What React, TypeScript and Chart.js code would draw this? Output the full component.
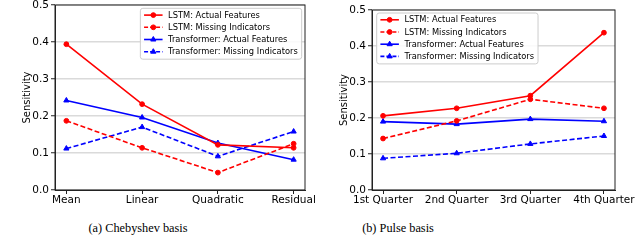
import React, { useEffect, useRef } from 'react';
import { Chart, registerables } from 'chart.js';

Chart.register(...registerables);
Chart.defaults.font.family = '"DejaVu Sans", sans-serif';

// ---------- data ----------
const chebyshevCategories = ['Mean', 'Linear', 'Quadratic', 'Residual'];
const pulseCategories = ['1st Quarter', '2nd Quarter', '3rd Quarter', '4th Quarter'];
const seriesNames = [
  'LSTM: Actual Features',
  'LSTM: Missing Indicators',
  'Transformer: Actual Features',
  'Transformer: Missing Indicators',
];

const chebLstmActual = [0.394, 0.232, 0.122, 0.114];
const chebLstmMissing = [0.187, 0.114, 0.047, 0.125];
const chebTransActual = [0.242, 0.196, 0.127, 0.082];
const chebTransMissing = [0.112, 0.17, 0.091, 0.158];

const pulseLstmActual = [0.206, 0.227, 0.262, 0.437];
const pulseLstmMissing = [0.143, 0.192, 0.252, 0.227];
const pulseTransActual = [0.19, 0.183, 0.197, 0.191];
const pulseTransMissing = [0.088, 0.102, 0.128, 0.15];

const yTicks = [0, 0.1, 0.2, 0.3, 0.4, 0.5];
const yTitle = 'Sensitivity';
const captions = ['(a) Chebyshev basis', '(b) Pulse basis'];

// ---------- styles ----------
const seriesStyles = [
  { color: '#ff0000', dash: [] as number[], marker: 'circle' },
  { color: '#ff0000', dash: [5, 2.5], marker: 'circle' },
  { color: '#0000ff', dash: [] as number[], marker: 'triangle' },
  { color: '#0000ff', dash: [5, 2.5], marker: 'triangle' },
];

type Geo = {
  padTop: number;
  padRight: number;
  yWidth: number;
  titlePad: number;
  legendAlign: 'left' | 'right';
  legendDx: number;
  legendDy: number;
};

const framePlugin = {
  id: 'frame',
  afterDatasetsDraw(chart: any) {
    const { ctx, chartArea: a } = chart;
    ctx.save();
    ctx.strokeStyle = '#222';
    ctx.lineWidth = 1;
    ctx.strokeRect(a.left, a.top, a.right - a.left, a.bottom - a.top);
    ctx.restore();
  },
};

function drawMarker(ctx: CanvasRenderingContext2D, kind: string, x: number, y: number, color: string) {
  ctx.save();
  ctx.fillStyle = color;
  ctx.strokeStyle = color;
  ctx.setLineDash([]);
  ctx.lineWidth = 1;
  ctx.beginPath();
  if (kind === 'circle') {
    ctx.arc(x, y, 2.4, 0, Math.PI * 2);
  } else {
    const r = 3;
    ctx.moveTo(x, y - r);
    ctx.lineTo(x + r * 0.866, y + r * 0.5);
    ctx.lineTo(x - r * 0.866, y + r * 0.5);
    ctx.closePath();
  }
  ctx.fill();
  ctx.stroke();
  ctx.restore();
}

function makeLegendPlugin(g: Geo) {
  return {
    id: 'insideLegend',
    afterDraw(chart: any) {
      const { ctx, chartArea: a } = chart;
      const fontSize = 8.3;
      const rowH = 12.2;
      const padX = 3.7;
      const lineLen = 18.5;
      const gap = 5.5;
      const padRight = 4;
      const firstOff = 6.8;
      const lastOff = 7.5;
      ctx.save();
      ctx.font = `${fontSize}px "DejaVu Sans", sans-serif`;
      let textW = 0;
      seriesNames.forEach((n) => {
        textW = Math.max(textW, ctx.measureText(n).width);
      });
      const boxW = padX + lineLen + gap + textW + padRight;
      const boxH = firstOff + rowH * (seriesNames.length - 1) + lastOff;
      const bx = g.legendAlign === 'right' ? a.right - g.legendDx - boxW : a.left + g.legendDx;
      const by = a.top + g.legendDy;
      ctx.beginPath();
      if ((ctx as any).roundRect) (ctx as any).roundRect(bx, by, boxW, boxH, 2.5);
      else ctx.rect(bx, by, boxW, boxH);
      ctx.fillStyle = 'rgba(255,255,255,0.85)';
      ctx.fill();
      ctx.strokeStyle = '#cccccc';
      ctx.lineWidth = 1;
      ctx.stroke();
      seriesNames.forEach((n, i) => {
        const st = seriesStyles[i];
        const cy = by + firstOff + i * rowH;
        const lx = bx + padX;
        ctx.save();
        ctx.strokeStyle = st.color;
        ctx.lineWidth = 1.6;
        ctx.setLineDash(st.dash.length ? [4, 2] : []);
        ctx.beginPath();
        ctx.moveTo(lx, cy);
        ctx.lineTo(lx + lineLen, cy);
        ctx.stroke();
        ctx.restore();
        drawMarker(ctx, st.marker, lx + lineLen / 2, cy, st.color);
        ctx.fillStyle = '#000';
        ctx.textBaseline = 'middle';
        ctx.textAlign = 'left';
        ctx.fillText(n, lx + lineLen + gap, cy + 0.5);
      });
      ctx.restore();
    },
  };
}

function ChartPanel({
  categories,
  series,
  geo,
  left,
}: {
  categories: string[];
  series: number[][];
  geo: Geo;
  left: number;
}) {
  const ref = useRef<HTMLCanvasElement | null>(null);
  useEffect(() => {
    if (!ref.current) return;
    const chart = new Chart(ref.current, {
      type: 'line',
      data: {
        datasets: series.map((vals, i) => {
          const st = seriesStyles[i];
          return {
            label: seriesNames[i],
            data: vals.map((v, j) => ({ x: j, y: v })),
            borderColor: st.color,
            backgroundColor: st.color,
            borderWidth: 1.6,
            borderDash: st.dash,
            pointStyle: st.marker as any,
            pointRadius: st.marker === 'triangle' ? 3 : 2.4,
            pointBorderWidth: 1,
            pointBackgroundColor: st.color,
            pointBorderColor: st.color,
            tension: 0,
            fill: false,
            clip: false as any,
          };
        }),
      },
      options: {
        animation: false,
        responsive: false,
        devicePixelRatio: 1,
        events: [],
        layout: { padding: { left: 0, right: geo.padRight, top: geo.padTop, bottom: 0 } },
        plugins: { legend: { display: false }, tooltip: { enabled: false } },
        scales: {
          x: {
            type: 'linear',
            min: -0.15,
            max: 3.15,
            afterBuildTicks: (s: any) => {
              s.ticks = categories.map((_, i) => ({ value: i }));
            },
            afterFit: (s: any) => {
              s.height = 20;
              s.paddingLeft = 0;
              s.paddingRight = 0;
            },
            ticks: {
              callback: (v: any) => categories[v] ?? '',
              autoSkip: false,
              maxRotation: 0,
              minRotation: 0,
              padding: 0,
              color: '#000',
              font: { size: 10.5 },
            },
            grid: { drawOnChartArea: false, drawTicks: true, tickLength: 4, tickColor: '#222', tickWidth: 1 },
            border: { display: true, color: '#222', width: 1 },
          },
          y: {
            type: 'linear',
            min: 0,
            max: 0.5,
            afterBuildTicks: (s: any) => {
              s.ticks = yTicks.map((v) => ({ value: v }));
            },
            afterFit: (s: any) => {
              s.width = geo.yWidth;
              s.paddingTop = 0;
              s.paddingBottom = 0;
            },
            ticks: {
              callback: (v: any) => Number(v).toFixed(1),
              padding: 2,
              color: '#000',
              font: { size: 10.5 },
            },
            grid: { color: '#dadada', lineWidth: 1.5, drawTicks: true, tickLength: 4, tickColor: '#222', tickWidth: 1 },
            border: { display: true, color: '#222', width: 1 },
            title: {
              display: true,
              text: yTitle,
              color: '#000',
              font: { size: 10 },
              padding: { top: geo.titlePad, bottom: 0 },
            },
          },
        },
      } as any,
      plugins: [framePlugin, makeLegendPlugin(geo)],
    });
    return () => chart.destroy();
  }, []);
  return (
    <canvas
      ref={ref}
      width={320}
      height={210}
      style={{ position: 'absolute', left, top: 0, width: 320, height: 210 }}
    />
  );
}

export default function App() {
  const capStyle = (cx: number): React.CSSProperties => ({
    position: 'absolute',
    left: cx - 100,
    width: 200,
    top: 221,
    textAlign: 'center',
    fontFamily: '"Liberation Serif", "Times New Roman", serif',
    fontSize: 12.3,
    lineHeight: 'normal',
    color: '#000',
    whiteSpace: 'nowrap',
  });
  return (
    <div
      style={{
        position: 'fixed',
        left: 0,
        top: 0,
        width: 640,
        height: 252,
        background: '#fff',
        overflow: 'hidden',
      }}
    >
      <ChartPanel
        categories={chebyshevCategories}
        series={[chebLstmActual, chebLstmMissing, chebTransActual, chebTransMissing]}
        geo={{ padTop: 5, padRight: 15, yWidth: 55, titlePad: 21, legendAlign: 'right', legendDx: 3.3, legendDy: 3.3 }}
        left={0}
      />
      <ChartPanel
        categories={pulseCategories}
        series={[pulseLstmActual, pulseLstmMissing, pulseTransActual, pulseTransMissing]}
        geo={{ padTop: 10, padRight: 25, yWidth: 52, titlePad: 18, legendAlign: 'left', legendDx: 4.7, legendDy: 3 }}
        left={320}
      />
      <div style={capStyle(138)}>{captions[0]}</div>
      <div style={capStyle(398)}>{captions[1]}</div>
    </div>
  );
}
